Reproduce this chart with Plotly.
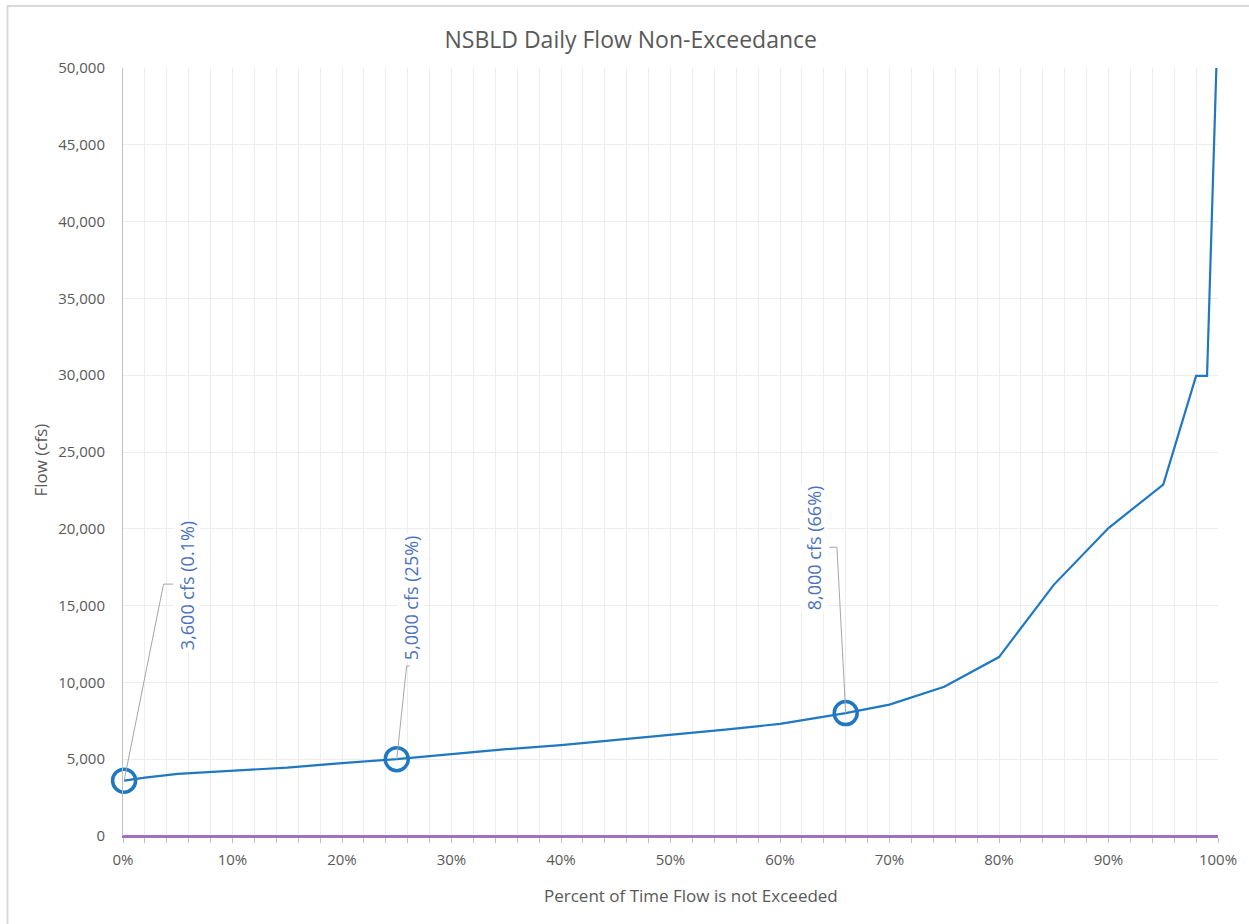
import plotly.graph_objects as go

# Data
pct = [0.1, 2, 5, 10, 15, 20, 25, 30, 35, 40, 45, 50, 55, 60, 66, 70, 75, 80, 85, 90, 95, 98, 99, 99.85]
flow = [3600, 3800, 4050, 4250, 4450, 4750, 5000, 5330, 5650, 5920, 6250, 6570, 6930, 7300, 8000, 8550, 9720, 11650, 16350, 20050, 22880, 29950, 29950, 50000]
zero_pct = [0, 100]
zero_flow = [0, 0]

hl_pct = [0.1, 25, 66]
hl_flow = [3600, 5000, 8000]
hl_text = ["3,600 cfs (0.1%)", "5,000 cfs (25%)", "8,000 cfs (66%)"]
# label centers (data units) and leader elbow points
lab_x = [5.8, 26.3, 63.1]
lab_y = [16300, 15550, 18800]
lead_start_x = [4.6, 26.2, 64.5]
lead_elbow_x = [3.7, 25.9, 65.2]
lead_y = [16400, 11070, 18800]

x_ticks = list(range(0, 101, 10))
x_tick_text = [f"{v}%" for v in x_ticks]
y_ticks = list(range(0, 50001, 5000))
y_tick_text = [f"{v:,}" for v in y_ticks]

BLUE = "#1F78C1"
LABEL_BLUE = "#4A72C0"
PURPLE = "#A270C0"
GRAY = "#595959"
GRID = "#EDEDED"
FONT = "Open Sans"

fig = go.Figure()
fig.add_trace(go.Scatter(x=zero_pct, y=zero_flow, mode="lines",
                         line=dict(color=PURPLE, width=2), hoverinfo="skip", showlegend=False))
fig.add_trace(go.Scatter(x=pct, y=flow, mode="lines",
                         line=dict(color=BLUE, width=2.2), showlegend=False))

shapes = []
for i in range(3):
    shapes.append(dict(type="path", xref="x", yref="y",
                       path=f"M {lead_start_x[i]},{lead_y[i]} L {lead_elbow_x[i]},{lead_y[i]} L {hl_pct[i]},{hl_flow[i]}",
                       line=dict(color="#A6A6A6", width=1), layer="above"))
# chart border
shapes.append(dict(type="rect", xref="paper", yref="paper", x0=-0.1055, x1=1.04, y0=-0.13, y1=1.0807,
                   line=dict(color="#D9D9D9", width=2), layer="below"))

fig.add_trace(go.Scatter(x=hl_pct, y=hl_flow, mode="markers",
                         marker=dict(symbol="circle-open", size=23, color=BLUE, line=dict(width=3.5, color=BLUE)),
                         showlegend=False, cliponaxis=False))

annotations = []
for i in range(3):
    annotations.append(dict(x=lab_x[i], y=lab_y[i], xref="x", yref="y", text=hl_text[i],
                            showarrow=False, textangle=-90, bgcolor="white",
                            font=dict(family=FONT, size=18, color=LABEL_BLUE)))
# x axis title (offset like the original)
annotations.append(dict(x=0.5187, y=-0.078, xref="paper", yref="paper", text="Percent of Time Flow is not Exceeded",
                        showarrow=False, xanchor="center", yanchor="middle",
                        font=dict(family=FONT, size=17, color=GRAY)))
# y axis title
annotations.append(dict(x=-0.075, y=0.49, xref="paper", yref="paper", text="Flow (cfs)", textangle=-90,
                        showarrow=False, xanchor="center", yanchor="middle",
                        font=dict(family=FONT, size=17, color=GRAY)))

fig.update_layout(
    width=1249, height=924,
    margin=dict(l=123, r=29, t=68, b=88),
    paper_bgcolor="white", plot_bgcolor="white",
    title=dict(text="NSBLD Daily Flow Non-Exceedance", x=0.505, xref="container", xanchor="center",
               y=1 - 40 / 924, yanchor="middle",
               font=dict(family=FONT, size=23, color=GRAY)),
    font=dict(family=FONT, color=GRAY, size=15),
    shapes=shapes, annotations=annotations,
    xaxis=dict(range=[0, 100], tickvals=x_ticks, ticktext=x_tick_text, showgrid=True, gridcolor=GRID,
               gridwidth=1, zeroline=False, showline=True, linecolor=PURPLE, linewidth=2,
               ticks="outside", ticklen=5, tickcolor="#BFBFBF", ticklabelstandoff=4,
               minor=dict(dtick=2, showgrid=True, gridcolor=GRID, ticks="outside", ticklen=5, tickcolor="#BFBFBF"),
               tickfont=dict(size=15, color=GRAY)),
    yaxis=dict(range=[0, 50000], tickvals=y_ticks, ticktext=y_tick_text, showgrid=True, gridcolor=GRID,
               zeroline=False, showline=True, linecolor="#BFBFBF", linewidth=1, ticks="",
               ticklabelstandoff=14,
               tickfont=dict(size=15, color=GRAY)),
)

fig.write_html("out.html", config={"displayModeBar": False},
               post_script="document.body.style.margin='0';")
